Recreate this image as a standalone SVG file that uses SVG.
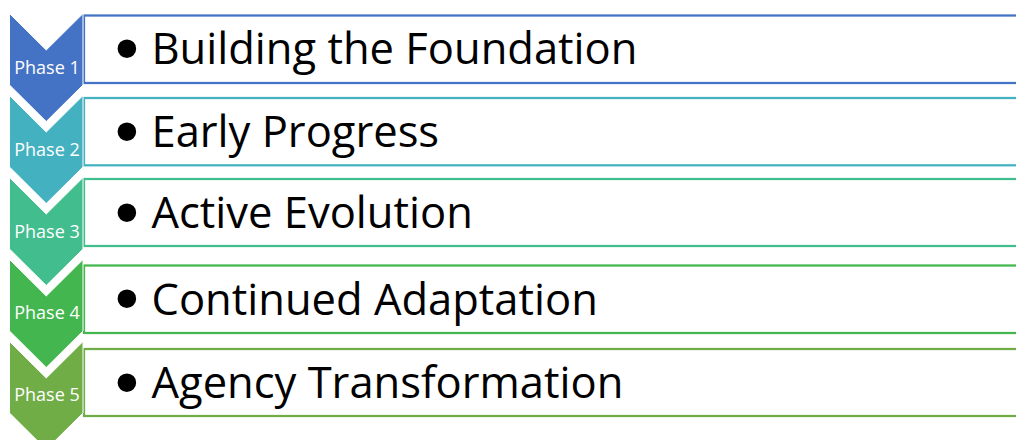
<svg xmlns="http://www.w3.org/2000/svg" width="1016" height="440" viewBox="0 0 1016 440">
<style>
  .chev { stroke: #ffffff; stroke-width: 1; }
  .box { fill: #ffffff; stroke-width: 2.25; }
  .ph { font-family: "Open Sans", "Liberation Sans", sans-serif; font-size: 18px; fill: #ffffff; text-anchor: middle; }
  .item { font-family: "Open Sans", "Liberation Sans", sans-serif; font-size: 43.5px; fill: #000000; }
  .bul { font-family: "DejaVu Sans", sans-serif; font-size: 64px; fill: #000000; }
</style>
<rect width="1016" height="440" fill="#ffffff"/>
<g id="phase1">
  <rect class="box" x="84" y="15.5" width="950" height="67.5" stroke="#4472C4"/>
  <polygon class="chev" fill="#4472C4" points="9.5,13.5 46.25,50 83,13.5 83,85 46.25,121.5 9.5,85"/>
  <text class="ph" x="47" y="73.5">Phase 1</text>
  <text class="bul" x="108" y="73">•</text>
  <text class="item" x="151.5" y="64">Building the Foundation</text>
</g>
<g id="phase2">
  <rect class="box" x="84" y="98" width="950" height="67.3" stroke="#44B1C1"/>
  <polygon class="chev" fill="#44B1C1" points="9.5,95.5 46.25,132 83,95.5 83,167 46.25,203.5 9.5,167"/>
  <text class="ph" x="47" y="155.5">Phase 2</text>
  <text class="bul" x="108" y="155.5">•</text>
  <text class="item" x="151.5" y="147">Early Progress</text>
</g>
<g id="phase3">
  <rect class="box" x="84" y="179" width="950" height="67" stroke="#42BD8E"/>
  <polygon class="chev" fill="#42BD8E" points="9.5,177.5 46.25,214 83,177.5 83,249 46.25,285.5 9.5,249"/>
  <text class="ph" x="47" y="237.5">Phase 3</text>
  <text class="bul" x="108" y="236.5">•</text>
  <text class="item" x="151.5" y="228">Active Evolution</text>
</g>
<g id="phase4">
  <rect class="box" x="84" y="265.5" width="950" height="67.5" stroke="#43B650"/>
  <polygon class="chev" fill="#43B650" points="9.5,259.5 46.25,296 83,259.5 83,331 46.25,367.5 9.5,331"/>
  <text class="ph" x="47" y="319">Phase 4</text>
  <text class="bul" x="108" y="323">•</text>
  <text class="item" x="151.5" y="314.5">Continued Adaptation</text>
</g>
<g id="phase5">
  <rect class="box" x="84" y="349" width="950" height="67" stroke="#70AD47"/>
  <polygon class="chev" fill="#70AD47" points="9.5,341.5 46.25,378 83,341.5 83,413 46.25,449.5 9.5,413"/>
  <text class="ph" x="47" y="401">Phase 5</text>
  <text class="bul" x="108" y="406.5">•</text>
  <text class="item" x="151.5" y="398">Agency Transformation</text>
</g>
<g id="connectors"></g>
</svg>
